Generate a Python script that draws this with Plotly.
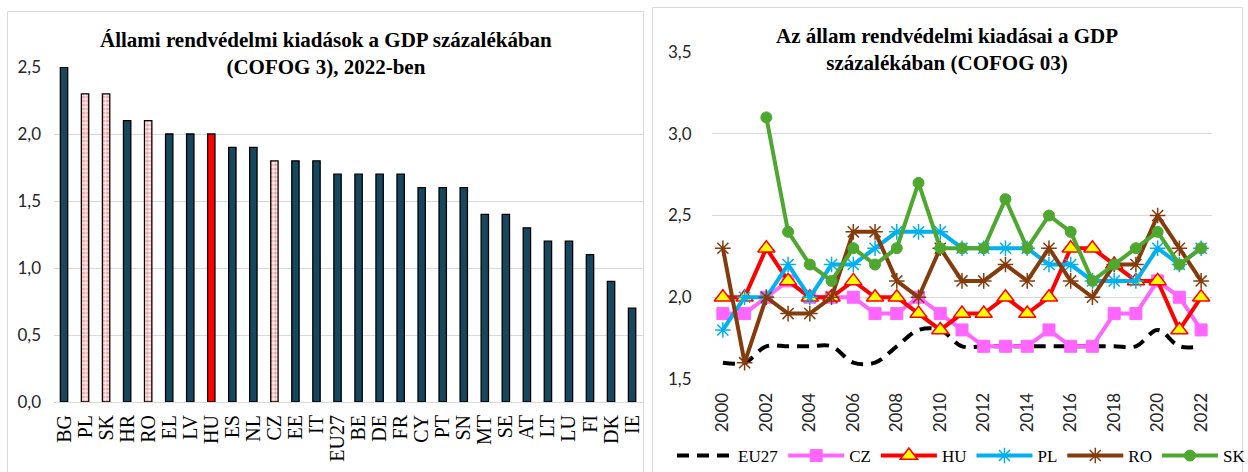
import plotly.graph_objects as go

# ---------------- data: left chart (2022) ----------------
countries = ["BG", "PL", "SK", "HR", "RO", "EL", "LV", "HU", "ES", "NL", "CZ", "EE", "IT",
             "EU27", "BE", "DE", "FR", "CY", "PT", "SN", "MT", "SE", "AT", "LT", "LU", "FI", "DK", "IE"]
values_2022 = [2.5, 2.3, 2.3, 2.1, 2.1, 2.0, 2.0, 2.0, 1.9, 1.9, 1.8, 1.8, 1.8,
               1.7, 1.7, 1.7, 1.7, 1.6, 1.6, 1.6, 1.4, 1.4, 1.3, 1.2, 1.2, 1.1, 0.9, 0.7]
patterned = ["PL", "SK", "RO", "CZ"]
highlight = ["HU"]

# ---------------- data: right chart (time series) ----------------
years = [str(y) for y in range(2000, 2023)]
year_ticks = years[::2]
eu27 = [1.6, 1.6, 1.7, 1.7, 1.7, 1.7, 1.6, 1.6, 1.7, 1.8, 1.8, 1.7, 1.7, 1.7, 1.7, 1.7, 1.7, 1.7, 1.7, 1.7, 1.8, 1.7, 1.7]
cz = [1.9, 1.9, 2.0, 2.1, 2.0, 2.0, 2.0, 1.9, 1.9, 2.0, 1.9, 1.8, 1.7, 1.7, 1.7, 1.8, 1.7, 1.7, 1.9, 1.9, 2.1, 2.0, 1.8]
hu = [2.0, 2.0, 2.3, 2.1, 2.0, 2.0, 2.1, 2.0, 2.0, 1.9, 1.8, 1.9, 1.9, 2.0, 1.9, 2.0, 2.3, 2.3, 2.2, 2.1, 2.1, 1.8, 2.0]
pl = [1.8, 2.0, 2.0, 2.2, 2.0, 2.2, 2.2, 2.3, 2.4, 2.4, 2.4, 2.3, 2.3, 2.3, 2.3, 2.2, 2.2, 2.1, 2.1, 2.1, 2.3, 2.2, 2.3]
ro = [2.3, 1.6, 2.0, 1.9, 1.9, 2.0, 2.4, 2.4, 2.1, 2.0, 2.3, 2.1, 2.1, 2.2, 2.1, 2.3, 2.1, 2.0, 2.2, 2.2, 2.5, 2.3, 2.1]
sk = [None, None, 3.1, 2.4, 2.2, 2.1, 2.3, 2.2, 2.3, 2.7, 2.3, 2.3, 2.3, 2.6, 2.3, 2.5, 2.4, 2.1, 2.2, 2.3, 2.4, 2.2, 2.3]

left_title = "Állami rendvédelmi kiadások a GDP százalékában<br>(COFOG 3), 2022-ben"
right_title = "Az állam rendvédelmi kiadásai a GDP<br>százalékában (COFOG 03)"

W, H = 1248, 472
SERIF = "Liberation Serif, Times New Roman, serif"
SANS = "Lato, Carlito, Calibri, sans-serif"
GRID = "#D9D9D9"
DARK = "#16475F"

def px_x(p):
    return p / W

def px_y(p):
    return 1 - p / H

fig = go.Figure()

bar_colors, pat_shapes, pat_fg, pat_bg = [], [], [], []
for c in countries:
    if c in highlight:
        bar_colors.append("#FF0000"); pat_shapes.append(""); pat_fg.append("#FF0000"); pat_bg.append("#FF0000")
    elif c in patterned:
        bar_colors.append("#F5A0A0"); pat_shapes.append("."); pat_fg.append("#E82828"); pat_bg.append("#FBD0D0")
    else:
        bar_colors.append(DARK); pat_shapes.append(""); pat_fg.append(DARK); pat_bg.append(DARK)

fig.add_trace(go.Bar(
    x=countries, y=values_2022, xaxis="x", yaxis="y",
    marker=dict(color=bar_colors, line=dict(color="#000000", width=1.3),
                pattern=dict(shape=pat_shapes, fgcolor=pat_fg, bgcolor=pat_bg, size=4,
                             solidity=0.55, fillmode="replace")),
    showlegend=False, hoverinfo="x+y",
))

series = [
    ("EU27", eu27, dict(color="#000000", width=4, dash="12px,8px", shape="spline"), None, "lines"),
    ("CZ", cz, dict(color="#FF66FF", width=4), dict(symbol="square", size=12, color="#FF66FF",
                                                   line=dict(color="#FF66FF", width=1)), "lines+markers"),
    ("HU", hu, dict(color="#FF0000", width=4), dict(symbol="triangle-up", size=15, color="#FFFF00",
                                                   line=dict(color="#FF0000", width=1.5)), "lines+markers"),
    ("PL", pl, dict(color="#00B0F0", width=4), dict(symbol="asterisk-open", size=13, color="#00B0F0",
                                                   line=dict(color="#00B0F0", width=1.5)), "lines+markers"),
    ("RO", ro, dict(color="#843C0C", width=4), dict(symbol="asterisk-open", size=13, color="#843C0C",
                                                   line=dict(color="#843C0C", width=1.5)), "lines+markers"),
    ("SK", sk, dict(color="#4EA72E", width=4), dict(symbol="circle", size=11, color="#4EA72E",
                                                   line=dict(color="#4EA72E", width=1)), "lines+markers"),
]
for name, vals, line, marker, mode in series:
    kw = dict(x=years, y=vals, name=name, mode=mode, line=line, xaxis="x2", yaxis="y2",
              connectgaps=False)
    if marker:
        kw["marker"] = marker
    fig.add_trace(go.Scatter(**kw))

tickfont = dict(family=SANS, size=17, color="#262626")

fig.update_layout(
    width=W, height=H,
    margin=dict(l=0, r=0, t=0, b=0, autoexpand=False),
    paper_bgcolor="white", plot_bgcolor="white",
    separators=",.",
    bargap=0.65,
    xaxis=dict(domain=[px_x(53.5), px_x(642.6)], anchor="y", type="category",
               tickmode="array", tickvals=countries, ticktext=countries,
               tickangle=-90, tickfont=dict(family=SERIF, size=20, color="#000000"),
               showgrid=False, showline=False, ticks="outside", ticklen=4,
               tickcolor="rgba(0,0,0,0)", fixedrange=True),
    yaxis=dict(domain=[px_y(402), px_y(67)], anchor="x", range=[0, 2.5], dtick=0.5,
               tickformat=".1f", tickfont=tickfont, gridcolor=GRID, gridwidth=1,
               zeroline=True, zerolinecolor=GRID, zerolinewidth=1,
               ticks="outside", ticklen=8, tickcolor="rgba(0,0,0,0)", fixedrange=True),
    xaxis2=dict(domain=[px_x(712), px_x(1212)], anchor="y2", type="category",
                range=[-0.5, len(years) - 0.5],
                tickmode="array", tickvals=year_ticks, ticktext=year_ticks,
                tickangle=-90, tickfont=tickfont, showgrid=False, showline=False,
                ticks="outside", ticklen=6, tickcolor="rgba(0,0,0,0)", fixedrange=True),
    yaxis2=dict(domain=[px_y(379), px_y(52)], anchor="x2", range=[1.5, 3.5], dtick=0.5,
                tickformat=".1f", tickfont=tickfont, gridcolor=GRID, gridwidth=1,
                zeroline=False, ticks="outside", ticklen=16, tickcolor="rgba(0,0,0,0)",
                fixedrange=True),
    legend=dict(orientation="h", x=px_x(672), xanchor="left", y=px_y(456), yanchor="middle",
                font=dict(family=SERIF, size=17, color="#000000"), itemwidth=56,
                bgcolor="rgba(0,0,0,0)", traceorder="normal"),
    shapes=[
        dict(type="rect", xref="paper", yref="paper", x0=px_x(7.5), x1=px_x(643.5),
             y0=px_y(480), y1=px_y(11.5), line=dict(color=GRID, width=1), layer="below"),
        dict(type="rect", xref="paper", yref="paper", x0=px_x(652.5), x1=px_x(1242.5),
             y0=px_y(480), y1=px_y(7.5), line=dict(color=GRID, width=1), layer="below"),
    ],
    annotations=[
        dict(text=left_title, xref="paper", yref="paper", x=px_x(326), y=px_y(53),
             xanchor="center", yanchor="middle", showarrow=False,
             font=dict(family=SERIF, size=21, color="#000000"), align="center"),
        dict(text=right_title, xref="paper", yref="paper", x=px_x(947), y=px_y(50),
             xanchor="center", yanchor="middle", showarrow=False,
             font=dict(family=SERIF, size=21, color="#000000"), align="center"),
    ],
)
# bold titles
for a in fig.layout.annotations:
    a.text = "<b>" + a.text.replace("<br>", "</b><br><b>") + "</b>"

fig.write_html("out.html", config={"displayModeBar": False, "responsive": False},
               post_script="document.body.style.margin='0';document.body.style.overflow='hidden';")
